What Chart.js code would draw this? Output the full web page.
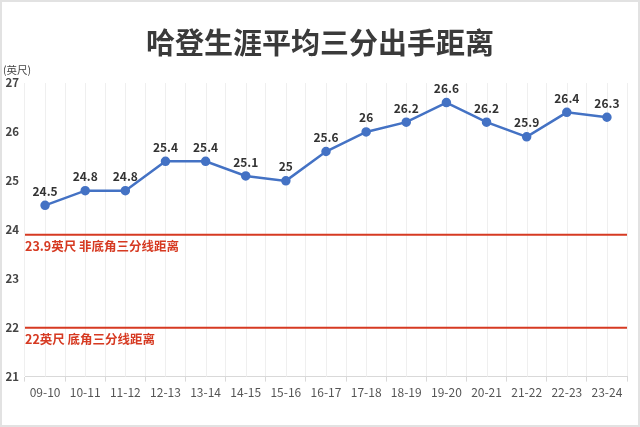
<!DOCTYPE html>
<html>
<head>
<meta charset="utf-8">
<script src="https://cdn.jsdelivr.net/npm/chart.js@4.4.1/dist/chart.umd.min.js"></script>
<style>
  html, body { margin: 0; padding: 0; background: #fff; }
  #wrap { width: 640px; height: 427px; box-sizing: border-box; border: 2px solid #e2e2e2; position: relative; }
  canvas { display: block; }
</style>
</head>
<body>
<div id="wrap"><canvas id="myChart" width="636" height="423"></canvas></div>
<script>
var FONT = "'Noto Sans CJK SC', 'Noto Sans', sans-serif";
var seasons = ["09-10", "10-11", "11-12", "12-13", "13-14", "14-15", "15-16", "16-17", "17-18", "18-19", "19-20", "20-21", "21-22", "22-23", "23-24"];
var distance = [24.5, 24.8, 24.8, 25.4, 25.4, 25.1, 25, 25.6, 26, 26.2, 26.6, 26.2, 25.9, 26.4, 26.3];
var refValues = [23.9, 22];
var refLabels = ["23.9英尺 非底角三分线距离", "22英尺 底角三分线距离"];
var yTicks = [21, 22, 23, 24, 25, 26, 27];

var extras = {
    id: "extras",
    beforeDatasetsDraw: function (chart) {
        var c = chart.ctx, a = chart.chartArea, x = chart.scales.x, y = chart.scales.y;
        c.save();
        // light grid lines through each category
        c.strokeStyle = "#efefef";
        c.lineWidth = 1;
        seasons.forEach(function (s, i) {
            var px = Math.round(x.getPixelForValue(i)) + 0.5;
            c.beginPath();
            c.moveTo(px, a.top);
            c.lineTo(px, a.bottom);
            c.stroke();
        });
        // reference lines
        c.strokeStyle = "#d63a22";
        c.lineWidth = 2;
        c.fillStyle = "#d63a22";
        c.font = "bold 12.5px " + FONT;
        c.textAlign = "left";
        c.textBaseline = "top";
        refValues.forEach(function (v, i) {
            var py = y.getPixelForValue(v);
            c.beginPath();
            c.moveTo(a.left, py);
            c.lineTo(a.right, py);
            c.stroke();
            c.fillText(refLabels[i], a.left, py + 5);
        });
        c.restore();
    },
    afterDatasetsDraw: function (chart) {
        var c = chart.ctx, meta = chart.getDatasetMeta(0);
        c.save();
        c.fillStyle = "#333";
        c.font = "bold 12px " + FONT;
        c.textAlign = "center";
        c.textBaseline = "bottom";
        meta.data.forEach(function (pt, i) {
            c.fillText(String(distance[i]), pt.x, pt.y - 8);
        });
        // title and unit
        c.fillStyle = "#3a3a3a";
        c.font = "bold 29px " + FONT;
        c.textBaseline = "middle";
        c.fillText("哈登生涯平均三分出手距离", chart.width / 2, 41);
        c.fillStyle = "#444";
        c.font = "10.5px " + FONT;
        c.textAlign = "left";
        c.fillText("(英尺)", 1, 68);
        c.restore();
    }
};

var ctx = document.getElementById("myChart").getContext("2d");
var chart = new Chart(ctx, {
    type: "line",
    data: {
        labels: seasons,
        datasets: [
            {
                data: distance,
                borderColor: "#4472c4",
                backgroundColor: "#4472c4",
                borderWidth: 2.5,
                pointRadius: 3.5,
                pointHoverRadius: 3.5,
                tension: 0
            }
        ]
    },
    options: {
        responsive: false,
        animation: false,
        events: [],
        layout: { padding: { top: 81, right: 11, bottom: 21, left: 0 } },
        plugins: { legend: { display: false }, tooltip: { enabled: false } },
        scales: {
            x: {
                offset: true,
                grid: { offset: true, color: "#efefef", tickLength: 5, tickColor: "#d9d9d9" },
                border: { color: "#d9d9d9" },
                ticks: { color: "#555", font: { family: FONT, size: 12 }, padding: 4, maxRotation: 0 }
            },
            y: {
                min: 21,
                max: 27,
                afterFit: function (s) { s.width = 23; },
                afterBuildTicks: function (s) { s.ticks = yTicks.map(function (v) { return { value: v }; }); },
                grid: { display: false, drawTicks: false },
                border: { display: false },
                ticks: { color: "#444", font: { family: FONT, size: 11.5, weight: "bold" }, padding: 6 }
            }
        }
    },
    plugins: [extras]
});
</script>
</body>
</html>
